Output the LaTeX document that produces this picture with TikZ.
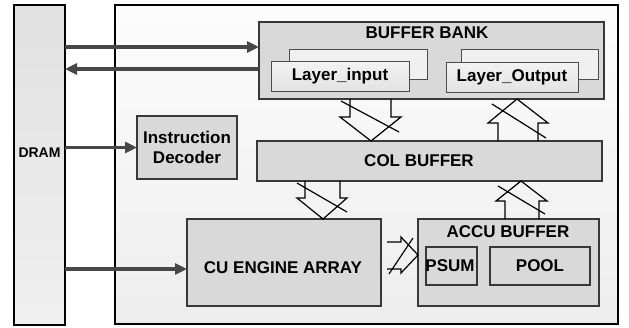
\documentclass[tikz,border=0pt]{standalone}
\usepackage{fontspec}
\setmainfont{Liberation Sans}
\usetikzlibrary{arrows.meta}
\begin{document}
\begin{tikzpicture}[x=1pt,y=-1pt,
  every node/.style={font=\bfseries\fontsize{17}{20}\selectfont, inner sep=0pt, outer sep=0pt},
  rbox/.style={anchor=north west, draw=black!78, line width=1.4pt, fill=black!15},
  layerbk/.style={anchor=north west, draw=black!70, line width=1pt, fill=black!6},
  layerfr/.style={anchor=north west, draw=black!70, line width=1pt, top color=black!5, bottom color=black!11},
  outerbox/.style={anchor=north west, draw=black, line width=2.4pt, top color=black!1, bottom color=black!7},
  garrow/.style={draw=black!72, line width=3.4pt, -{Triangle[length=12pt,width=11pt]}},
  fat/.style={draw=black, line width=1.2pt, line join=miter},
  slash/.style={draw=black, line width=1.2pt}
]
\useasboundingbox (0,0) rectangle (629,327);

% DRAM and chip
\node[outerbox, top color=black!12, bottom color=black!6, minimum width=51, minimum height=320] (dram) at (14,5) {};
\node[font=\bfseries\fontsize{14}{16}\selectfont] (dramt) at (39.5,153) {DRAM};
\node[outerbox, minimum width=503, minimum height=319] (chip) at (115,5) {};

% Buffer bank
\node[rbox, minimum width=345, minimum height=77] (bb) at (259,22) {};
\node (bbt) at (427,33) {BUFFER BANK};
\node[layerbk, minimum width=138, minimum height=30] (libk) at (289,49) {};
\node[layerfr, minimum width=138, minimum height=30] (li) at (271,61) {Layer\_input};
\node[layerbk, minimum width=137, minimum height=30] (lobk) at (461,49) {};
\node[layerfr, minimum width=132, minimum height=30] (lo) at (446,62) {Layer\_Output};

% Instruction decoder
\node[rbox, minimum width=100, minimum height=63] (id) at (137,116) {};
\node[align=center] (idt) at (187,147) {Instruction\\Decoder};

% Col buffer
\node[rbox, minimum width=345, minimum height=40] (col) at (257,141) {};
\node (colt) at (419,161) {COL BUFFER};

% CU engine array
\node[rbox, minimum width=194, minimum height=87] (cu) at (187,219) {};
\node (cut) at (283,268) {CU ENGINE ARRAY};

% Accu buffer
\node[rbox, minimum width=181, minimum height=87] (accu) at (418,219) {};
\node (accut) at (508,232) {ACCU BUFFER};
\node[rbox, line width=1.2pt, minimum width=51, minimum height=38] (psum) at (426,247) {};
\node (psumt) at (450,266) {PSUM};
\node[rbox, line width=1.2pt, minimum width=100, minimum height=38] (pool) at (490,247) {};
\node (poolt) at (540,266) {POOL};

% gray arrows
\draw[garrow] (dram.east |- 0,47) -- (bb.west |- 0,47);
\draw[garrow] (bb.west |- 0,69) -- (dram.east |- 0,69);
\draw[garrow] (dram.east |- id.west) -- (id.west);
\draw[garrow] (dram.east |- 0,269) -- (cu.west |- 0,269);

% fat arrows: buffer bank -> col buffer
\draw[fat] (350,0 |- bb.south) -- (350,117) -- (340,117) -- (371,0 |- col.north) -- (401,117) -- (391,117) -- (391,0 |- bb.south);
\draw[slash] (341,101) -- (399,132);
% col buffer -> buffer bank
\draw[fat] (498,0 |- col.north) -- (498,123) -- (488,123) -- (517,0 |- bb.south) -- (548,123) -- (538,123) -- (538,0 |- col.north);
\draw[slash] (492,104) -- (546,138);
% col buffer -> cu
\draw[fat] (305,0 |- col.south) -- (305,198) -- (297,198) -- (323,0 |- cu.north) -- (347,198) -- (340,198) -- (340,0 |- col.south);
\draw[slash] (297,183) -- (347,212);
% accu -> col buffer
\draw[fat] (505,0 |- accu.north) -- (505,201) -- (496,201) -- (521,0 |- col.south) -- (547,201) -- (539,201) -- (539,0 |- accu.north);
\draw[slash] (498,186) -- (545,214);
% cu -> accu
\draw[fat] (387,242) -- (401,242) -- (401,237) -- (accu.west |- 0,255) -- (401,273) -- (401,269) -- (387,269);
\draw[slash] (389,274) -- (413,238);
\end{tikzpicture}
\end{document}
